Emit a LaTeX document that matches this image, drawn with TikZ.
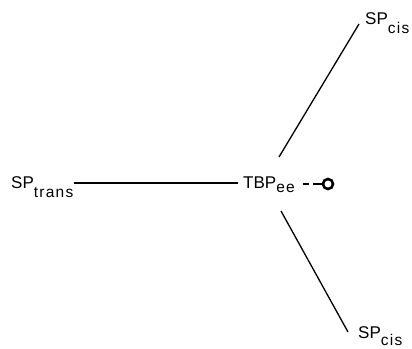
\documentclass[tikz,border=0pt]{standalone}
\usepackage{fontspec}
\setmainfont{Liberation Sans}
\newcommand\lbl[3]{{\fontsize{17}{17}\selectfont #1}\raisebox{-#3}{\fontsize{15.5}{15.5}\selectfont\addfontfeature{LetterSpace=8}#2}}
\begin{document}
\begin{tikzpicture}[x=1pt,y=1pt,
  lab/.style={inner sep=0pt,anchor=base west},
  bond/.style={line width=1.3pt},
  dashbond/.style={line width=2.2pt}]
\useasboundingbox (0,0) rectangle (412,348);
\clip (0,0) rectangle (412,348);
\node[lab] (trans) at (11,159) {\lbl{SP}{trans}{9pt}};
\node[lab] (tbp) at (243,159) {\lbl{TBP}{ee}{4pt}};
\node[lab] (cisT) at (365,323) {\lbl{SP}{cis}{9pt}};
\node[lab] (cisB) at (358,10) {\lbl{SP}{cis}{7pt}};
\node[draw,circle,line width=2.6pt,minimum size=10pt,inner sep=0pt] (o) at (328,164) {};
\draw[bond] ([shift={(1pt,6pt)}]trans.base east) -- ([shift={(-5pt,6pt)}]tbp.base west);
\draw[bond] ([shift={(36pt,32pt)}]tbp.base west) -- ([shift={(-6pt,1pt)}]cisT.base west);
\draw[bond] ([shift={(38pt,-22pt)}]tbp.base west) -- ([shift={(-10pt,6pt)}]cisB.base west);
\draw[dashbond] (303,164) -- (309,164) (313,164) -- (o.west);
\end{tikzpicture}
\end{document}
